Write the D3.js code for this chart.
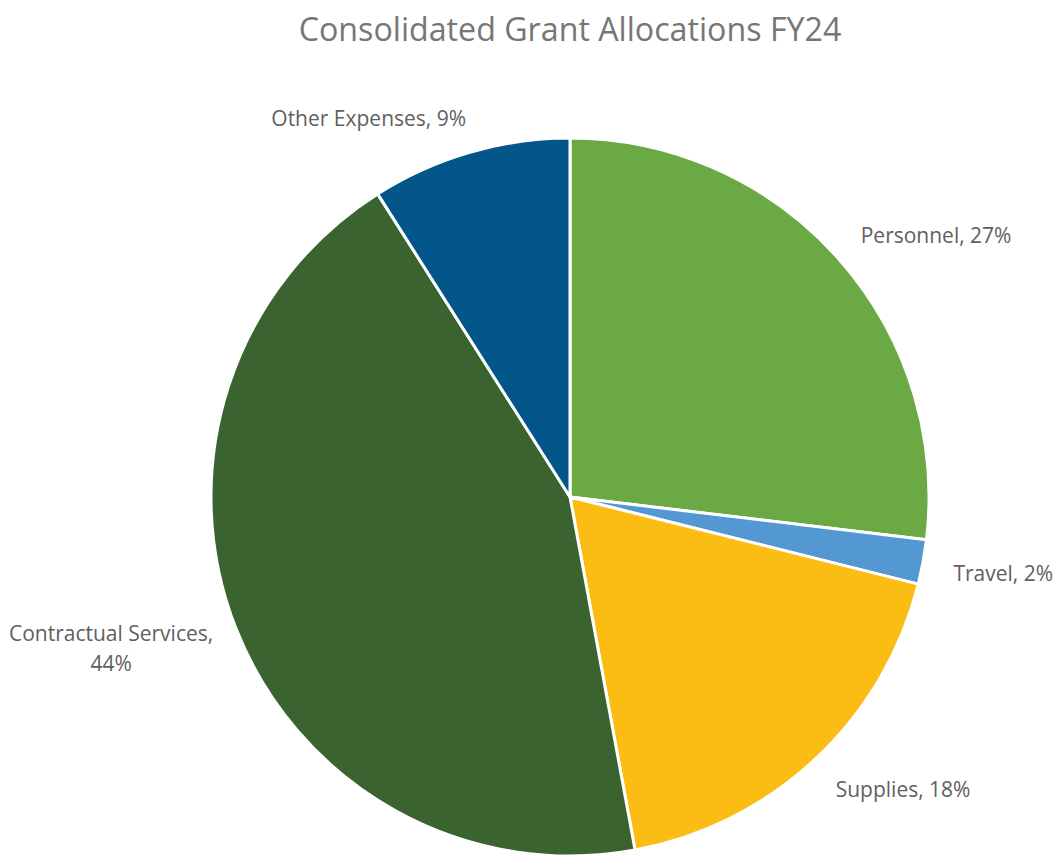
<!DOCTYPE html>
<html><head><meta charset="utf-8">
<script src="https://cdn.jsdelivr.net/npm/d3@7"></script>
<style>html,body{margin:0;padding:0;background:#fff;}</style>
</head><body>
<svg id="c" width="1057" height="855"></svg>
<script>
const title = "Consolidated Grant Allocations FY24";
const categories = ["Personnel", "Travel", "Supplies", "Contractual Services", "Other Expenses"];
const values = [26.9, 2.0, 18.2, 43.9, 9.0];
const pctLabels = ["27%", "2%", "18%", "44%", "9%"];
const colors = ["#6aa943", "#5498d3", "#fbbd13", "#3a6330", "#03568a"];

const W = 1057, H = 855;
const cx = 570, cy = 497, R = 359;
const font = "'Open Sans', Lato, sans-serif";
const svg = d3.select("#c");

svg.append("text").attr("x", cx).attr("y", 28).attr("text-anchor", "middle")
  .attr("dominant-baseline", "central").attr("font-family", font)
  .attr("font-size", 32.2).attr("fill", "#767676").text(title);

const data = categories.map((c, i) => ({cat: c, v: values[i], pct: pctLabels[i], color: colors[i]}));
const pie = d3.pie().value(d => d.v).sort(null);
const arcs = pie(data);
const arc = d3.arc().innerRadius(0).outerRadius(R);
const g = svg.append("g").attr("transform", `translate(${cx},${cy})`);
g.selectAll("path").data(arcs).join("path")
  .attr("d", arc).attr("fill", d => d.data.color)
  .attr("stroke", "#fff").attr("stroke-width", 3).attr("stroke-linejoin", "round");

const LR = R + 35;
arcs.forEach(a => {
  const m = (a.startAngle + a.endAngle) / 2;
  const x = LR * Math.sin(m), y = -LR * Math.cos(m);
  const right = Math.sin(m) >= 0;
  const dy = Math.cos(m) < 0 ? 5 : -1;
  const t = g.append("text").attr("font-family", font).attr("font-size", 21).attr("fill", "#5f5f5f");
  if (a.data.cat === "Contractual Services") {
    const l1 = a.data.cat + ",", l2 = a.data.pct;
    t.attr("text-anchor", "middle");
    const s1 = t.append("tspan").text(l1);
    const w = s1.node().getComputedTextLength();
    const bx = x + 10 - w / 2;
    s1.attr("x", bx).attr("y", y - 15 + 15);
    t.append("tspan").attr("x", bx).attr("y", y + 15 + 15).text(l2);
  } else {
    t.attr("x", x + (right ? -4 : 6)).attr("y", y + dy).attr("dominant-baseline", "central")
      .attr("text-anchor", right ? "start" : "end")
      .text(a.data.cat + ", " + a.data.pct);
  }
});
</script>
</body></html>
